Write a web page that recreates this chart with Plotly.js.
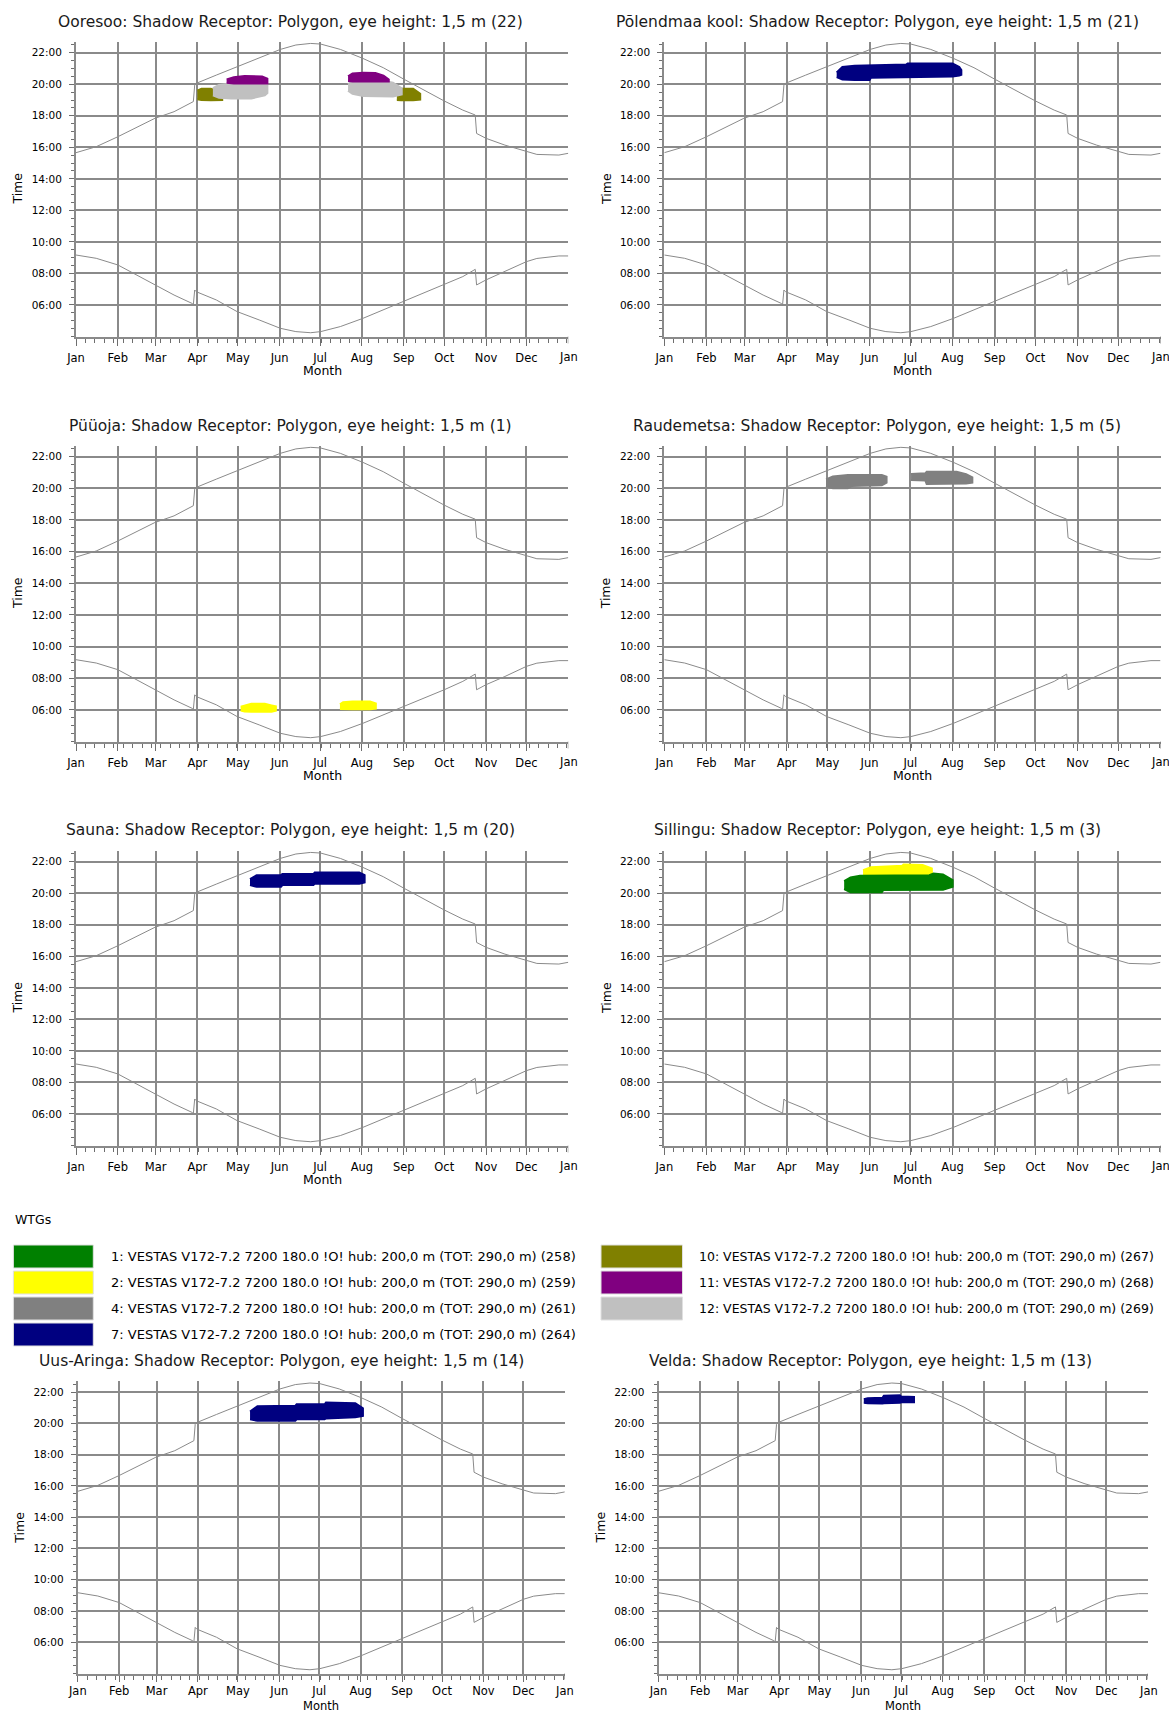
<!DOCTYPE html>
<html>
<head>
<meta charset="utf-8">
<script src="https://cdn.plot.ly/plotly-3.0.1.min.js"></script>
<style>
html,body{margin:0;padding:0;background:#fff;}
#chart{width:1169px;height:1713px;}
</style>
</head>
<body>
<div id="chart"></div>
<script>
// ---------------- DATA ----------------
const monthTickDays = [0, 31, 59, 90, 120, 151, 181, 212, 243, 273, 304, 334, 365];
const monthTickLabels = ['Jan','Feb','Mar','Apr','May','Jun','Jul','Aug','Sep','Oct','Nov','Dec','Jan'];
const timeTickValues = [6, 8, 10, 12, 14, 16, 18, 20, 22];
const timeTickLabels = ['06:00','08:00','10:00','12:00','14:00','16:00','18:00','20:00','22:00'];

// sun curves (day of year, hour of day)
const sunDays = [0, 15, 31, 45, 58.5, 72.7, 86, 87, 88, 89.2, 104, 119.4, 135.8, 151.5, 163, 174, 181.4, 196, 212.7, 227.8, 242.9, 258, 273, 286.8, 296, 297, 304, 318, 334, 341.7, 358, 365];
const sunsetHours = [15.66, 16.04, 16.67, 17.24, 17.84, 18.26, 18.83, 18.9, 19.95, 20.06, 20.58, 21.11, 21.70, 22.21, 22.49, 22.59, 22.55, 22.21, 21.64, 21.05, 20.33, 19.63, 18.94, 18.36, 18.05, 16.88, 16.57, 16.14, 15.72, 15.55, 15.51, 15.62];
const sunriseHours = [9.17, 8.96, 8.54, 7.90, 7.27, 6.63, 6.10, 6.02, 6.95, 6.84, 6.32, 5.58, 5.05, 4.52, 4.31, 4.24, 4.31, 4.63, 5.15, 5.68, 6.25, 6.78, 7.27, 7.80, 8.26, 7.27, 7.59, 8.11, 8.75, 8.95, 9.11, 9.11];

const receptorTitles = [
  'Ooresoo: Shadow Receptor: Polygon, eye height: 1,5 m (22)',
  'Põlendmaa kool: Shadow Receptor: Polygon, eye height: 1,5 m (21)',
  'Püüoja: Shadow Receptor: Polygon, eye height: 1,5 m (1)',
  'Raudemetsa: Shadow Receptor: Polygon, eye height: 1,5 m (5)',
  'Sauna: Shadow Receptor: Polygon, eye height: 1,5 m (20)',
  'Sillingu: Shadow Receptor: Polygon, eye height: 1,5 m (3)',
  'Uus-Aringa: Shadow Receptor: Polygon, eye height: 1,5 m (14)',
  'Velda: Shadow Receptor: Polygon, eye height: 1,5 m (13)'
];

const wtgIds = [1, 2, 4, 7, 10, 11, 12];
const wtgColors = ['#008000', '#ffff00', '#808080', '#000080', '#808000', '#800080', '#c0c0c0'];
const wtgLegendTexts = [
  '1: VESTAS V172-7.2 7200 180.0 !O! hub: 200,0 m (TOT: 290,0 m) (258)',
  '2: VESTAS V172-7.2 7200 180.0 !O! hub: 200,0 m (TOT: 290,0 m) (259)',
  '4: VESTAS V172-7.2 7200 180.0 !O! hub: 200,0 m (TOT: 290,0 m) (261)',
  '7: VESTAS V172-7.2 7200 180.0 !O! hub: 200,0 m (TOT: 290,0 m) (264)',
  '10: VESTAS V172-7.2 7200 180.0 !O! hub: 200,0 m (TOT: 290,0 m) (267)',
  '11: VESTAS V172-7.2 7200 180.0 !O! hub: 200,0 m (TOT: 290,0 m) (268)',
  '12: VESTAS V172-7.2 7200 180.0 !O! hub: 200,0 m (TOT: 290,0 m) (269)'
];

// shadow periods: days, earliest hour, latest hour
// Ooresoo
const ooresooW10aDays = [90, 93, 100, 106, 108.4];
const ooresooW10aLo = [19.05, 19.0, 18.98, 18.98, 19.0];
const ooresooW10aHi = [19.6, 19.72, 19.72, 19.5, 19.2];
const ooresooW12aDays = [101.5, 106, 115, 130, 140, 141.9];
const ooresooW12aLo = [19.3, 19.15, 19.1, 19.1, 19.3, 19.45];
const ooresooW12aHi = [19.75, 19.95, 20.05, 20.05, 20.05, 19.95];
const ooresooW11aDays = [111.7, 117, 125, 138, 141.9];
const ooresooW11aLo = [20.1, 20.05, 20.05, 20.05, 20.05];
const ooresooW11aHi = [20.3, 20.45, 20.52, 20.5, 20.35];
const ooresooW10bDays = [237.9, 241, 250, 253, 255.2];
const ooresooW10bLo = [19.0, 18.98, 18.98, 18.98, 19.02];
const ooresooW10bHi = [19.35, 19.72, 19.72, 19.55, 19.4];
const ooresooW12bDays = [201.7, 205, 213, 225, 235, 241.5];
const ooresooW12bLo = [19.6, 19.4, 19.25, 19.21, 19.22, 19.35];
const ooresooW12bHi = [20.0, 20.2, 20.27, 20.27, 20.1, 19.75];
const ooresooW11bDays = [201.7, 205, 213, 222, 228, 231.9];
const ooresooW11bLo = [20.2, 20.18, 20.18, 20.2, 20.18, 20.18];
const ooresooW11bHi = [20.5, 20.68, 20.73, 20.72, 20.55, 20.3];
// Põlendmaa kool
const polendmaaW7Days = [126.8, 131, 140, 151, 152, 178, 179, 212, 217, 218.5];
const polendmaaW7Lo = [20.45, 20.3, 20.27, 20.27, 20.42, 20.45, 20.48, 20.5, 20.55, 20.6];
const polendmaaW7Hi = [20.75, 21.1, 21.18, 21.2, 21.2, 21.25, 21.32, 21.32, 21.1, 20.9];
// Püüoja
const puuojaW2aDays = [122.1, 125, 130, 140, 145, 148.2];
const puuojaW2aLo = [5.95, 5.9, 5.88, 5.88, 5.88, 5.95];
const puuojaW2aHi = [6.2, 6.25, 6.38, 6.38, 6.28, 6.22];
const puuojaW2bDays = [195.7, 198, 205, 218, 222.3];
const puuojaW2bLo = [6.05, 6.04, 6.04, 6.04, 6.08];
const puuojaW2bHi = [6.35, 6.48, 6.53, 6.53, 6.4];
// Raudemetsa
const raudemetsaW4aDays = [119, 124, 135, 138, 160, 163.5];
const raudemetsaW4aLo = [20.15, 20.0, 20.0, 20.15, 20.2, 20.36];
const raudemetsaW4aHi = [20.57, 20.75, 20.84, 20.84, 20.84, 20.74];
const raudemetsaW4bDays = [181.5, 192, 193, 215, 222, 226.6];
const raudemetsaW4bLo = [20.53, 20.5, 20.27, 20.27, 20.3, 20.36];
const raudemetsaW4bHi = [20.91, 20.95, 21.05, 21.05, 20.9, 20.69];
// Sauna
const saunaW7Days = [129, 134, 152, 153, 176, 177, 210, 214];
const saunaW7Lo = [20.52, 20.41, 20.41, 20.52, 20.52, 20.6, 20.6, 20.69];
const saunaW7Hi = [20.9, 21.15, 21.15, 21.22, 21.22, 21.32, 21.32, 21.15];
// Sillingu
const sillinguW2Days = [146.2, 152, 175, 176, 190, 196.8];
const sillinguW2Lo = [21.1, 21.05, 21.05, 21.05, 21.05, 21.15];
const sillinguW2Hi = [21.47, 21.65, 21.75, 21.83, 21.8, 21.58];
const sillinguW1Days = [132.3, 137, 144, 160, 161, 195, 198, 205, 212.1];
const sillinguW1Lo = [20.27, 20.06, 20.06, 20.06, 20.2, 20.2, 20.2, 20.22, 20.41];
const sillinguW1Hi = [20.77, 21.0, 21.11, 21.11, 21.11, 21.15, 21.26, 21.2, 20.84];
// Uus-Aringa
const uusAringaW7Days = [129.1, 134.6, 163, 164, 185, 186, 208, 213.7];
const uusAringaW7Lo = [20.27, 20.17, 20.17, 20.27, 20.27, 20.32, 20.4, 20.49];
const uusAringaW7Hi = [20.76, 21.1, 21.13, 21.23, 21.23, 21.34, 21.3, 20.98];
// Velda
const veldaW7Days = [153.1, 156, 167, 168, 180, 181, 190.5];
const veldaW7Lo = [21.32, 21.3, 21.28, 21.3, 21.32, 21.36, 21.36];
const veldaW7Hi = [21.55, 21.62, 21.65, 21.77, 21.8, 21.72, 21.7];

const shadowPeriods = [
  {chart: 0, wtg: 10, days: ooresooW10aDays, lo: ooresooW10aLo, hi: ooresooW10aHi},
  {chart: 0, wtg: 12, days: ooresooW12aDays, lo: ooresooW12aLo, hi: ooresooW12aHi},
  {chart: 0, wtg: 11, days: ooresooW11aDays, lo: ooresooW11aLo, hi: ooresooW11aHi},
  {chart: 0, wtg: 10, days: ooresooW10bDays, lo: ooresooW10bLo, hi: ooresooW10bHi},
  {chart: 0, wtg: 12, days: ooresooW12bDays, lo: ooresooW12bLo, hi: ooresooW12bHi},
  {chart: 0, wtg: 11, days: ooresooW11bDays, lo: ooresooW11bLo, hi: ooresooW11bHi},
  {chart: 1, wtg: 7, days: polendmaaW7Days, lo: polendmaaW7Lo, hi: polendmaaW7Hi},
  {chart: 2, wtg: 2, days: puuojaW2aDays, lo: puuojaW2aLo, hi: puuojaW2aHi},
  {chart: 2, wtg: 2, days: puuojaW2bDays, lo: puuojaW2bLo, hi: puuojaW2bHi},
  {chart: 3, wtg: 4, days: raudemetsaW4aDays, lo: raudemetsaW4aLo, hi: raudemetsaW4aHi},
  {chart: 3, wtg: 4, days: raudemetsaW4bDays, lo: raudemetsaW4bLo, hi: raudemetsaW4bHi},
  {chart: 4, wtg: 7, days: saunaW7Days, lo: saunaW7Lo, hi: saunaW7Hi},
  {chart: 5, wtg: 2, days: sillinguW2Days, lo: sillinguW2Lo, hi: sillinguW2Hi},
  {chart: 5, wtg: 1, days: sillinguW1Days, lo: sillinguW1Lo, hi: sillinguW1Hi},
  {chart: 6, wtg: 7, days: uusAringaW7Days, lo: uusAringaW7Lo, hi: uusAringaW7Hi},
  {chart: 7, wtg: 7, days: veldaW7Days, lo: veldaW7Lo, hi: veldaW7Hi}
];

// ---------------- LAYOUT GEOMETRY (pixels) ----------------
const W = 1169, H = 1713;
// ls: tick-label standoff, lc: closing label offset below axis, my: "Month" centre, ms: "Month" size
const boxes = [
  {l: 76, r: 568.3, t: 41.7, b: 336.5, tx: 290, ty: 21.7, my: 370, ls: 3, lc: 20.5, ms: 12.5},
  {l: 664.3, r: 1160.5, t: 41.7, b: 336.5, tx: 877, ty: 21.7, my: 370, ls: 3, lc: 20.5, ms: 12.5},
  {l: 76, r: 568.3, t: 445.6, b: 741.5, tx: 290, ty: 426, my: 775, ls: 3, lc: 20.5, ms: 12.5},
  {l: 664.3, r: 1160.5, t: 445.6, b: 741.5, tx: 877, ty: 426, my: 775, ls: 3, lc: 20.5, ms: 12.5},
  {l: 76, r: 568.3, t: 850.7, b: 1145.5, tx: 290, ty: 830, my: 1179, ls: 3, lc: 20.5, ms: 12.5},
  {l: 664.3, r: 1160.5, t: 850.7, b: 1145.5, tx: 877, ty: 830, my: 1179, ls: 3, lc: 20.5, ms: 12.5},
  {l: 77.8, r: 564.8, t: 1381.3, b: 1673.5, tx: 281, ty: 1360.7, my: 1705.5, ls: 0, lc: 17.5, ms: 11.5},
  {l: 658.5, r: 1148, t: 1381.3, b: 1673.5, tx: 870, ty: 1360.7, my: 1705.5, ls: 0, lc: 17.5, ms: 11.5}
];
const px = v => v / W;
const py = v => 1 - v / H;

const GRID = '#8a8a8a';
const CURVE = '#8a8a8a';
const TICKC = '#6e6e6e';
const FONT = 'DejaVu Sans, Liberation Sans, Arial, sans-serif';

const nMonths = monthTickDays.length;
const gridTickDays = monthTickDays.slice(0, nMonths - 1);
const gridTickLabels = monthTickLabels.slice(0, nMonths - 1);
const endDay = monthTickDays[nMonths - 1];
const endLabel = monthTickLabels[nMonths - 1];

const traces = [];
const layout = {
  width: W, height: H,
  margin: {l: 0, r: 0, t: 0, b: 0},
  paper_bgcolor: '#ffffff',
  plot_bgcolor: '#ffffff',
  showlegend: false,
  font: {family: FONT, color: '#000'},
  annotations: [],
  shapes: []
};

boxes.forEach((bx, i) => {
  const n = i + 1;
  const xa = 'xaxis' + (n === 1 ? '' : n);
  const ya = 'yaxis' + (n === 1 ? '' : n);
  const xr = 'x' + (n === 1 ? '' : n);
  const yr = 'y' + (n === 1 ? '' : n);
  const xTickLen = bx.ls === 0 ? 6 : 7;
  layout[xa] = {
    domain: [px(bx.l), px(bx.r)],
    anchor: yr,
    range: [0, endDay],
    tickmode: 'array', tickvals: gridTickDays, ticktext: gridTickLabels,
    showgrid: true, gridcolor: GRID, gridwidth: 2,
    showline: true, linecolor: GRID, linewidth: 2,
    zeroline: false,
    ticks: 'outside', ticklen: xTickLen, tickwidth: 1, tickcolor: TICKC,
    ticklabelstandoff: bx.ls,
    tickfont: {family: FONT, size: 11.5, color: '#000'},
    minor: {tickmode: 'linear', tick0: 0, dtick: 7, ticks: 'outside', ticklen: 4, tickwidth: 1, tickcolor: TICKC, showgrid: false},
    fixedrange: true
  };
  layout[ya] = {
    domain: [py(bx.b), py(bx.t)],
    anchor: xr,
    range: [4.0, 22.7],
    tickmode: 'array', tickvals: timeTickValues, ticktext: timeTickLabels,
    showgrid: true, gridcolor: GRID, gridwidth: 2,
    showline: true, linecolor: GRID, linewidth: 2,
    zeroline: false,
    ticks: 'outside', ticklen: 5, tickwidth: 1, tickcolor: TICKC,
    ticklabelstandoff: 5,
    tickfont: {family: FONT, size: 10.5, color: '#000'},
    minor: {tickmode: 'linear', tick0: 0, dtick: 0.5, ticks: 'outside', ticklen: 3, tickwidth: 1, tickcolor: TICKC, showgrid: false},
    fixedrange: true
  };
  // closing month tick + label (no grid line at the right edge)
  layout.shapes.push({type: 'line', xref: xr, yref: 'paper', x0: endDay, x1: endDay,
    y0: py(bx.b), y1: py(bx.b + xTickLen), line: {color: TICKC, width: 1}});
  layout.annotations.push({xref: xr, yref: 'paper', x: endDay, y: py(bx.b + bx.lc), xanchor: 'center', yanchor: 'middle',
    text: endLabel, showarrow: false, font: {family: FONT, size: 11.5, color: '#000'}});
  // sun curves
  traces.push({type: 'scatter', mode: 'lines', x: sunDays, y: sunsetHours, xaxis: xr, yaxis: yr,
    line: {color: CURVE, width: 1}, hoverinfo: 'skip'});
  traces.push({type: 'scatter', mode: 'lines', x: sunDays, y: sunriseHours, xaxis: xr, yaxis: yr,
    line: {color: CURVE, width: 1}, hoverinfo: 'skip'});
  // titles
  layout.annotations.push({xref: 'paper', yref: 'paper', x: px(bx.tx), y: py(bx.ty), xanchor: 'center', yanchor: 'middle',
    text: receptorTitles[i], showarrow: false, font: {family: FONT, size: 15.5, color: '#1a1a1a'}});
  layout.annotations.push({xref: 'paper', yref: 'paper', x: px(bx.l - 58.5), y: py((bx.t + bx.b) / 2), xanchor: 'center', yanchor: 'middle',
    text: 'Time', textangle: -90, showarrow: false, font: {family: FONT, size: 12.5, color: '#000'}});
  layout.annotations.push({xref: 'paper', yref: 'paper', x: px((bx.l + bx.r) / 2), y: py(bx.my), xanchor: 'center', yanchor: 'middle',
    text: 'Month', showarrow: false, font: {family: FONT, size: bx.ms, color: '#000'}});
});

// shadow period polygons
shadowPeriods.forEach(sp => {
  const n = sp.chart + 1;
  const xr = 'x' + (n === 1 ? '' : n);
  const yr = 'y' + (n === 1 ? '' : n);
  const col = wtgColors[wtgIds.indexOf(sp.wtg)];
  const xs = sp.days.concat(sp.days.slice().reverse());
  const ys = sp.lo.concat(sp.hi.slice().reverse());
  traces.push({type: 'scatter', mode: 'lines', x: xs, y: ys, xaxis: xr, yaxis: yr,
    fill: 'toself', fillcolor: col, line: {color: col, width: 2}, hoverinfo: 'skip'});
});

// WTG legend block
layout.annotations.push({xref: 'paper', yref: 'paper', x: px(13), y: py(1219), xanchor: 'left', yanchor: 'middle',
  text: 'WTGs', showarrow: false, font: {family: FONT, size: 12.5, color: '#000'}});
const legendRowTops = [1245, 1271, 1297, 1323];
const legendCols = [{sx0: 13.4, sx1: 93.3, tx: 109, fs: 13}, {sx0: 601, sx1: 682.5, tx: 697, fs: 12.5}];
wtgIds.forEach((id, k) => {
  const col = k < 4 ? 0 : 1;
  const row = k < 4 ? k : k - 4;
  const lc = legendCols[col];
  const top = legendRowTops[row];
  layout.shapes.push({type: 'rect', xref: 'paper', yref: 'paper',
    x0: px(lc.sx0), x1: px(lc.sx1), y0: py(top + 23), y1: py(top),
    fillcolor: wtgColors[k], line: {color: '#e0e0e0', width: 1}});
  layout.annotations.push({xref: 'paper', yref: 'paper', x: px(lc.tx), y: py(top + 11.5), xanchor: 'left', yanchor: 'middle',
    text: wtgLegendTexts[k], showarrow: false, font: {family: FONT, size: lc.fs, color: '#000'}});
});

Plotly.newPlot('chart', traces, layout, {staticPlot: true, displayModeBar: false});
</script>
</body>
</html>
